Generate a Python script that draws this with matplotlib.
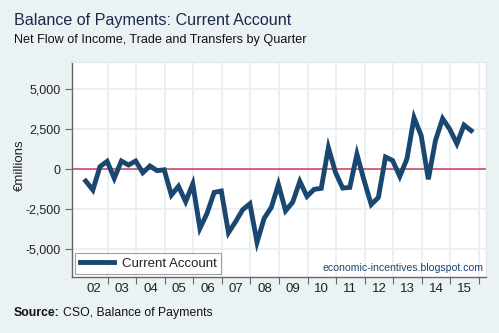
import matplotlib
matplotlib.use("Agg")
import matplotlib.pyplot as plt
from matplotlib.ticker import FixedLocator, FuncFormatter

plt.rcParams['font.family'] = ['Liberation Sans', 'DejaVu Sans']

# Quarterly current account balance, EUR millions, 2002Q1 - 2015Q3
years = [y for y in range(2002, 2016) for _ in range(4)][:55]
quarters = [q for _ in range(2002, 2016) for q in range(1, 5)][:55]
current_account = [
    -750, -1310, 150, 480,
    -580, 500, 250, 500,
    -230, 190, -100, -50,
    -1630, -1080, -2040, -930,
    -3710, -2770, -1460, -1375,
    -3980, -3290, -2540, -2170,
    -4580, -3080, -2400, -960,
    -2610, -2070, -770, -1710,
    -1270, -1210, 1340, -220,
    -1190, -1150, 930, -710,
    -2220, -1780, 750, 530,
    -460, 630, 3210, 2090,
    -640, 1780, 3150, 2490,
    1580, 2750, 2400,
]
year_labels = ["02", "03", "04", "05", "06", "07", "08",
               "09", "10", "11", "12", "13", "14", "15"]
y_ticks = [-5000, -2500, 0, 2500, 5000]

BG = "#eaf2f3"
NAVY = "#1a476f"
GRID = "#e6eff1"

fig = plt.figure(figsize=(4.99, 3.33), dpi=100, facecolor=BG)
ax = fig.add_axes([72 / 499, 1 - 277 / 333, (486 - 72) / 499, (277 - 62) / 333])
ax.set_facecolor("white")

x = [y + (q - 1) / 4 + 0.23 for y, q in zip(years, quarters)]

ax.set_xlim(2001.75, 2016.25)
ax.set_ylim(-6750, 6690)

# grid
for yb in range(2003, 2017):
    ax.axvline(yb, color=GRID, lw=1.2, zorder=0)
for v in y_ticks:
    if v != 0:
        ax.axhline(v, color=GRID, lw=1.2, zorder=0)
ax.axhline(0, color="#c8385a", lw=1.1, zorder=1)

ax.plot(x, current_account, color=NAVY, lw=3.5, solid_joinstyle="miter",
        label="Current Account", zorder=3)

# axes styling
for s in ["top", "right"]:
    ax.spines[s].set_color("#dfe6e8")
    ax.spines[s].set_linewidth(0.8)
for s in ["left", "bottom"]:
    ax.spines[s].set_color("#666666")
    ax.spines[s].set_linewidth(1.0)

ax.yaxis.set_major_locator(FixedLocator(y_ticks))
ax.yaxis.set_major_formatter(FuncFormatter(lambda v, p: f"{int(v):,}"))
ax.tick_params(axis="y", length=5, width=0.8, color="#666666",
               labelsize=9, pad=3, labelcolor="#222222")

ax.xaxis.set_major_locator(FixedLocator(list(range(2003, 2017))))
ax.xaxis.set_major_formatter(FuncFormatter(lambda v, p: ""))
ax.xaxis.set_minor_locator(FixedLocator([2002.5 + i for i in range(len(year_labels))]))
ax.set_xticklabels(year_labels, minor=True)
ax.tick_params(axis="x", which="major", length=5, width=0.8, color="#666666")
ax.tick_params(axis="x", which="minor", length=0, labelsize=9.5, pad=4,
               labelcolor="#222222")

ax.set_ylabel("€millions", fontsize=9.5, color="#222222")
ax.yaxis.label.set_transform(fig.transFigure)
ax.yaxis.label.set_position((20 / 499, 1 - 165 / 333))
ax.yaxis.label.set_verticalalignment("center")
ax.yaxis.set_label_coords(20 / 499, 1 - 165 / 333, transform=fig.transFigure)

leg = ax.legend(loc="lower left", bbox_to_anchor=(0.007, 0.012), frameon=True,
                fancybox=False, fontsize=9.5, handlelength=2.6,
                borderpad=0.35, handletextpad=0.6, borderaxespad=0.0)
leg.get_frame().set_edgecolor("#888888")
leg.get_frame().set_linewidth(0.8)
for t in leg.get_texts():
    t.set_color("#222222")

ax.text(0.995, 0.018, "economic-incentives.blogspot.com", transform=ax.transAxes,
        ha="right", va="bottom", fontsize=7.6, color=NAVY)

fig.text(14 / 499, 1 - 21 / 333, "Balance of Payments: Current Account",
         fontsize=11.6, color="#1a2a4a", ha="left", va="center")
fig.text(14 / 499, 1 - 40 / 333, "Net Flow of Income, Trade and Transfers by Quarter",
         fontsize=9.1, color="#111111", ha="left", va="center")
src_label = fig.text(14 / 499, 1 - 313 / 333, "Source:", fontsize=8.8,
                     fontweight="bold", color="#111111", ha="left", va="center")
fig.canvas.draw()
bb = src_label.get_window_extent(renderer=fig.canvas.get_renderer())
fig.text((bb.x1 + 3) / 499, 1 - 313 / 333, "CSO, Balance of Payments",
         fontsize=8.8, color="#111111", ha="left", va="center")

fig.savefig("out.png", dpi=100, facecolor=BG)
